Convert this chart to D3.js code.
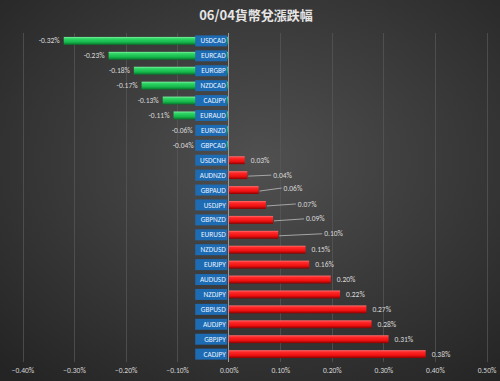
<!DOCTYPE html>
<html><head><meta charset="utf-8">
<script src="https://cdn.jsdelivr.net/npm/d3@7"></script>
<style>html,body{margin:0;padding:0;background:#333;}svg{display:block;}</style>
</head><body>
<script>
const title = "06/04貨幣兌漲跌幅";
const pairs = ["USDCAD","EURCAD","EURGBP","NZDCAD","CADJPY","EURAUD","EURNZD","GBPCAD","USDCNH","AUDNZD","GBPAUD","USDJPY","GBPNZD","EURUSD","NZDUSD","EURJPY","AUDUSD","NZDJPY","GBPUSD","AUDJPY","GBPJPY","CADJPY"];
const changes = [-0.320,-0.233,-0.184,-0.169,-0.128,-0.107,-0.062,-0.041,0.031,0.036,0.058,0.072,0.086,0.096,0.149,0.156,0.198,0.216,0.267,0.277,0.310,0.382];
const tickValues = [-0.4,-0.3,-0.2,-0.1,0,0.1,0.2,0.3,0.4,0.5];
// label nudges (px) for leader-lined value labels
const labelNudge = {9:[20,0],10:[19,-2],11:[26,-1],12:[27,-1],13:[40,-1]};

const W=500,H=381;
const svg=d3.select("body").append("svg").attr("width",W).attr("height",H);
const defs=svg.append("defs");
const bg=defs.append("radialGradient").attr("id","bg").attr("cx","52%").attr("cy","42%").attr("r","75%");
bg.append("stop").attr("offset","0%").attr("stop-color","#505050");
bg.append("stop").attr("offset","100%").attr("stop-color","#242424");
const gg=defs.append("linearGradient").attr("id","gg").attr("x1",0).attr("x2",0).attr("y1",0).attr("y2",1);
[["0%","#7fef9f"],["22%","#2fd665"],["65%","#16b84c"],["100%","#07702a"]].forEach(s=>gg.append("stop").attr("offset",s[0]).attr("stop-color",s[1]));
const rg=defs.append("linearGradient").attr("id","rg").attr("x1",0).attr("x2",0).attr("y1",0).attr("y2",1);
[["0%","#ff7070"],["22%","#ff2a2a"],["65%","#f01010"],["100%","#8a0000"]].forEach(s=>rg.append("stop").attr("offset",s[0]).attr("stop-color",s[1]));

svg.append("rect").attr("width",W).attr("height",H).attr("fill","url(#bg)");

const x=d3.scaleLinear().domain([-0.4,0.5]).range([22.5,486.5]);
const y=d3.scaleBand().domain(d3.range(pairs.length)).range([33.5,361.5]).paddingInner(0.47).paddingOuter(0.23);

svg.append("text").attr("x",256).attr("y",20).attr("text-anchor","middle")
  .attr("font-family","'Noto Sans CJK TC','Noto Sans',sans-serif").attr("font-weight","bold")
  .attr("font-size",13).attr("fill","#e6e6e6").text(title);

// gridlines
svg.append("g").selectAll("line").data(tickValues.filter(v=>v!==0)).join("line")
  .attr("x1",d=>Math.round(x(d))+0.5).attr("x2",d=>Math.round(x(d))+0.5)
  .attr("y1",33).attr("y2",362).attr("stroke","#595959").attr("stroke-width",0.7);

// x axis tick labels
const ax=svg.append("g").attr("transform","translate(0,370)")
  .call(d3.axisBottom(x).tickValues(tickValues).tickSize(0).tickFormat(d=>d3.format(".2f")(d*1)+"%"));
ax.select(".domain").remove();
ax.selectAll("text").attr("fill","#d4d4d4").attr("font-size",7.5).attr("font-family","Calibri,'Liberation Sans',Arial,sans-serif").attr("dy","0");

// bars
const x0=x(0);
svg.append("g").selectAll("rect").data(changes).join("rect")
  .attr("x",d=>Math.min(x(d),x0)).attr("width",d=>Math.abs(x(d)-x0))
  .attr("y",(d,i)=>y(i)).attr("height",y.bandwidth())
  .attr("fill",d=>d<0?"url(#gg)":"url(#rg)");

// zero axis
svg.append("line").attr("x1",Math.round(x0)-0.5).attr("x2",Math.round(x0)-0.5).attr("y1",33).attr("y2",362)
  .attr("stroke","#9a9a9a").attr("stroke-width",1);

// category label boxes
const cat=svg.append("g").selectAll("g").data(pairs).join("g")
  .attr("transform",(d,i)=>`translate(${x0-1.5},${y(i)+y.bandwidth()/2})`);
cat.append("rect").attr("x",-32).attr("y",-5.5).attr("width",32).attr("height",11).attr("fill","#1d6bb3");
cat.append("text").attr("x",-1.5).attr("y",2.6).attr("text-anchor","end")
  .attr("font-family","Calibri,'Liberation Sans',Arial,sans-serif").attr("font-size",7.3)
  .attr("fill","#e8f2ff").text(d=>d);

// value labels
const fmt=d=>d.toFixed(2)+"%";
changes.forEach((d,i)=>{
  const cy=y(i)+y.bandwidth()/2;
  const end=x(d);
  if(d<0){
    svg.append("text").attr("x",Math.min(end-4, x0-35)).attr("y",cy+2.6).attr("text-anchor","end")
      .attr("font-family","Calibri,'Liberation Sans',Arial,sans-serif").attr("font-size",7.5)
      .attr("fill","#d9d9d9").text(fmt(d));
  } else {
    const nd=labelNudge[i];
    let tx=end+6, ty=cy;
    if(nd){
      tx=end+6+nd[0]; ty=cy+nd[1];
      svg.append("line").attr("x1",end+1).attr("y1",cy+1).attr("x2",tx-2).attr("y2",ty)
        .attr("stroke","#bdbdbd").attr("stroke-width",0.8);
    }
    svg.append("text").attr("x",tx).attr("y",ty+2.6)
      .attr("font-family","Calibri,'Liberation Sans',Arial,sans-serif").attr("font-size",7.5)
      .attr("fill","#d9d9d9").text(fmt(d));
  }
});
</script>
</body></html>
